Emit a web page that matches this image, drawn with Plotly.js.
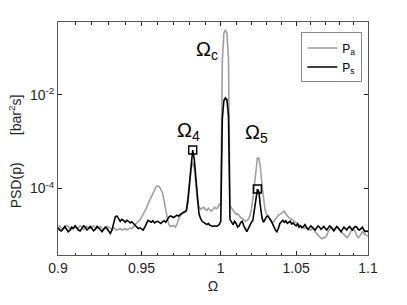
<!DOCTYPE html>
<html>
<head>
<meta charset="utf-8">
<script src="https://cdn.plot.ly/plotly-3.0.1.min.js"></script>
<style>html,body{margin:0;padding:0;background:#fff;}#chart{width:407px;height:305px;}</style>
</head>
<body>
<div id="chart"></div>
<script>
// Frequency bins (normalised frequency Ω), step 0.001 from 0.900 to 1.100
const omega = Array.from({length: 201}, (_, i) => +(0.9 + i * 0.001).toFixed(3));

// PSD values in units of 1e-5 bar^2 s
const UNIT = 1e-5;
const Pa_e5 = [
  1.5,1.6,1.4,1.35,1.5,1.65,1.55,1.4,1.35,1.5,
  1.55,1.4,1.45,1.6,1.5,1.35,1.45,1.55,1.5,1.4,
  1.5,1.6,1.45,1.4,1.5,1.55,1.4,1.3,1.45,1.55,
  1.5,1.4,1.35,1.45,1.4,1.3,1.35,1.4,1.3,1.35,
  1.4,1.3,1.35,1.45,1.4,1.5,1.7,1.9,2.0,2.1,
  2.4,2.8,3.1,3.8,4.7,5.6,6.5,8.0,9.5,10.8,
  11.4,11.0,9.5,8.0,5.5,3.2,2.3,1.7,1.55,1.6,
  1.6,1.5,1.7,2.2,2.6,2.9,3.0,3.1,3.3,5.0,
  11,26,36,27,12,5.5,4.0,3.6,3.8,4.0,
  3.6,3.4,3.8,3.5,3.3,3.6,4.0,3.7,3.9,4.5,
  5.0,5000,20000,24000,20000,6000,4.5,3.8,3.4,3.0,
  2.8,2.9,2.6,2.4,2.3,2.1,2.0,2.1,2.2,2.6,
  3.5,6,13,30,45,44,28,12,5.5,3.6,
  2.9,2.5,2.2,2.0,1.9,2.0,2.2,2.5,2.7,2.8,
  3.0,3.2,3.3,2.9,2.6,2.4,2.3,2.2,2.1,2.0,
  1.9,1.8,1.7,1.6,1.55,1.45,1.4,1.5,1.35,1.3,
  1.3,1.4,1.35,1.2,1.1,1.0,0.95,0.88,0.85,0.9,
  0.9,1.0,1.2,1.4,1.5,1.45,1.35,1.4,1.5,1.4,
  1.3,1.2,1.1,1.0,0.95,0.9,0.95,1.1,1.3,1.4,
  1.3,1.2,1.0,0.9,0.95,1.1,1.2,1.1,1.05,1.0,
  1.0
];
const Ps_e5 = [
  1.45,1.3,1.25,1.4,1.55,1.35,1.2,1.3,1.5,1.4,
  1.6,1.45,1.3,1.25,1.45,1.6,1.5,1.3,1.4,1.55,
  1.4,1.25,1.35,1.55,1.45,1.3,1.2,1.35,1.5,1.4,
  1.25,1.1,1.3,1.8,2.5,2.6,2.3,2.0,2.2,2.1,
  1.9,2.1,2.0,1.85,1.95,1.8,1.7,1.5,1.4,1.45,
  1.35,1.3,1.5,1.8,2.1,2.0,1.9,2.05,1.85,1.95,
  2.0,1.9,1.8,1.95,2.05,1.9,2.2,2.45,2.6,2.5,
  2.4,2.55,2.7,2.6,2.8,3.0,3.1,3.2,3.4,6.0,
  15,38,66,42,16,5.5,2.9,2.3,2.0,1.9,
  1.75,1.7,1.8,1.65,1.6,1.55,1.6,1.55,1.6,1.7,
  2.0,300,750,850,780,350,2.2,1.9,1.7,2.0,
  1.8,1.5,1.6,1.9,2.0,1.6,1.35,1.2,1.4,1.7,
  1.9,2.1,3.2,5.8,9.7,8.5,4.2,2.4,1.9,2.2,
  2.5,2.6,2.4,2.1,1.8,1.5,1.3,1.2,1.4,1.8,
  2.0,2.1,1.9,2.05,1.8,1.9,2.0,1.75,1.85,1.7,
  1.6,1.75,1.5,1.6,1.45,1.55,1.7,1.5,1.35,1.45,
  1.6,1.5,1.4,1.3,1.45,1.6,1.5,1.35,1.45,1.55,
  1.4,1.3,1.45,1.6,1.5,1.35,1.25,1.4,1.55,1.45,
  1.3,1.2,1.35,1.5,1.4,1.3,1.45,1.55,1.4,1.3,
  1.45,1.55,1.5,1.35,1.3,1.4,1.5,1.3,1.2,1.25,
  1.2
];

// Tick labels
const xTickVals = [0.9, 0.95, 1, 1.05, 1.1];
const xTickText = ['0.9', '0.95', '1', '1.05', '1.1'];
const xMinorVals = [0.91,0.92,0.93,0.94,0.96,0.97,0.98,0.99,1.01,1.02,1.03,1.04,1.06,1.07,1.08,1.09];
const yTickVals = [1e-4, 1e-2];
const yTickText = ['10<sup>-4</sup>', '10<sup>-2</sup>'];

// Windows in which the marked Ps peaks (Ω4, Ω5) are located
const peakWindows = [[0.975, 0.99], [1.015, 1.035]];

const Pa = Pa_e5.map(v => v * UNIT);
const Ps = Ps_e5.map(v => v * UNIT);

const markX = [], markY = [];
peakWindows.forEach(([a, b]) => {
  let best = -1;
  omega.forEach((w, i) => {
    if (w >= a && w <= b && (best < 0 || Ps[i] > Ps[best])) best = i;
  });
  markX.push(omega[best]); markY.push(Ps[best]);
});

const FONT = '"Liberation Sans", Arial, Helvetica, sans-serif';
const AX = '#262626';

const traces = [
  {x: omega, y: Pa, type: 'scatter', mode: 'lines', name: 'P<sub>a</sub>',
   line: {color: '#a0a0a0', width: 1.6}},
  {x: omega, y: Ps, type: 'scatter', mode: 'lines', name: 'P<sub>s</sub>',
   line: {color: '#000000', width: 1.6}},
  {x: markX, y: markY, type: 'scatter', mode: 'markers', showlegend: false,
   marker: {symbol: 'square-open', size: 8, color: '#000', line: {width: 1.5, color: '#000'}}}
];

const layout = {
  width: 407, height: 305,
  margin: {l: 58, r: 39, t: 22, b: 50},
  paper_bgcolor: '#fff', plot_bgcolor: '#fff',
  font: {family: FONT, size: 14, color: AX},
  showlegend: true,
  legend: {x: 0.785, y: 0.955, xanchor: 'left', yanchor: 'top',
           bordercolor: '#8a8a8a', borderwidth: 1, bgcolor: '#fff',
           font: {family: FONT, size: 12, color: '#000'},
           itemwidth: 30, tracegroupgap: 0, tracegap: 0},
  xaxis: {
    type: 'log', range: [Math.log10(0.9), Math.log10(1.1)],
    tickmode: 'array', tickvals: xTickVals, ticktext: xTickText,
    ticks: 'inside', ticklen: 4, tickwidth: 1, tickcolor: AX,
    showline: true, linecolor: '#555', linewidth: 1, mirror: 'ticks',
    showgrid: false, zeroline: false,
    tickfont: {family: FONT, size: 14, color: AX},
    minor: {tickmode: 'array', tickvals: xMinorVals, ticks: 'inside', ticklen: 2.5, tickcolor: AX, showgrid: false},
    title: {text: 'Ω', font: {family: FONT, size: 14, color: AX}, standoff: 6}
  },
  yaxis: {
    type: 'log', range: [-5.417, -0.453],
    tickmode: 'array', tickvals: yTickVals, ticktext: yTickText,
    ticks: 'inside', ticklen: 4, tickwidth: 1, tickcolor: AX,
    showline: true, linecolor: '#555', linewidth: 1, mirror: 'ticks',
    showgrid: false, zeroline: false,
    tickfont: {family: FONT, size: 14, color: AX}
  },
  annotations: [
    {xref: 'paper', yref: 'paper', x: 0, y: 0.445, xshift: -43, textangle: -90,
     showarrow: false, xanchor: 'center', yanchor: 'middle',
     text: 'PSD(p)\u00a0\u00a0\u00a0\u00a0\u00a0\u00a0\u00a0[bar<sup>2</sup>s]',
     font: {family: FONT, size: 14, color: AX}},
    {xref: 'paper', yref: 'paper', x: (206.5 - 58) / 310, y: (255 - 50) / 233,
     showarrow: false, xanchor: 'center', yanchor: 'middle',
     text: 'Ω<sub>c</sub>', font: {family: FONT, size: 20, color: '#000'}},
    {xref: 'paper', yref: 'paper', x: (188.5 - 58) / 310, y: (255 - 131.5) / 233,
     showarrow: false, xanchor: 'center', yanchor: 'middle',
     text: 'Ω<sub>4</sub>', font: {family: FONT, size: 20, color: '#000'}},
    {xref: 'paper', yref: 'paper', x: (256 - 58) / 310, y: (255 - 133.5) / 233,
     showarrow: false, xanchor: 'center', yanchor: 'middle',
     text: 'Ω<sub>5</sub>', font: {family: FONT, size: 20, color: '#000'}}
  ]
};

Plotly.newPlot('chart', traces, layout, {displayModeBar: false, staticPlot: true});
</script>
</body>
</html>
